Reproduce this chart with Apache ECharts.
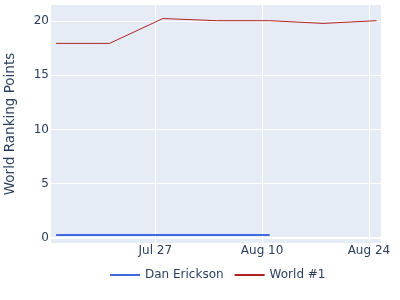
<!DOCTYPE html>
<html>
<head>
<meta charset="utf-8">
<script src="https://cdn.jsdelivr.net/npm/echarts@6/dist/echarts.min.js"></script>
<style>html,body{margin:0;padding:0;background:#fff}#c{width:400px;height:300px}</style>
</head>
<body>
<div id="c"></div>
<script>
const dates = ['2025-07-14','2025-07-21','2025-07-28','2025-08-04','2025-08-11','2025-08-18','2025-08-25'];
const worldValues = [17.95, 17.95, 20.25, 20.05, 20.05, 19.8, 20.05];
const danDates = ['2025-07-14','2025-07-21','2025-07-28','2025-08-04','2025-08-11'];
const danValues = [0.25, 0.25, 0.25, 0.25, 0.25];
const xTickDates = ['2025-07-27','2025-08-10','2025-08-24'];
const xTickLabels = ['Jul 27','Aug 10','Aug 24'];
const yTicks = [0, 5, 10, 15, 20];

function ts(s){ const p = s.split('-').map(Number); return new Date(p[0], p[1]-1, p[2]).getTime(); }
const xTickTs = xTickDates.map(ts);
const xMin = new Date(2025, 6, 13, 8).getTime();
const xMax = new Date(2025, 7, 25, 14).getTime();
const txt = '#2a3f5f';
const font = '"DejaVu Sans", sans-serif';

const chart = echarts.init(document.getElementById('c'), null, {renderer:'canvas'});
chart.setOption({
  animation: false,
  backgroundColor: '#fff',
  textStyle: {fontFamily: font},
  grid: {left: 51, right: 19, top: 5, bottom: 57, show: true, backgroundColor: '#E5ECF6', borderWidth: 0,
    outerBoundsMode: 'none', containLabel: false},
  legend: {
    left: 109, top: 269, padding: 0, itemWidth: 30, itemHeight: 14, itemGap: 10,
    itemStyle: {opacity: 0},
    textStyle: {color: txt, fontSize: 12, fontFamily: font},
    data: ['Dan Erickson', 'World #1']
  },
  xAxis: {
    type: 'value', min: xMin, max: xMax, scale: true,
    axisLine: {show: false},
    axisTick: {show: false, customValues: xTickTs},
    axisLabel: {
      customValues: xTickTs, color: txt, fontSize: 12, fontFamily: font, margin: 2,
      formatter: function (v) { const i = xTickTs.indexOf(v); return i >= 0 ? xTickLabels[i] : ''; }
    },
    splitLine: {show: true, lineStyle: {color: '#fff', width: 1}}
  },
  yAxis: {
    type: 'value', min: -0.5, max: 21.5,
    name: 'World Ranking Points', nameLocation: 'middle', nameGap: 34,
    nameTextStyle: {color: txt, fontSize: 13.5, fontFamily: font},
    axisLine: {show: false},
    axisTick: {show: false, customValues: yTicks},
    axisLabel: {customValues: yTicks, color: txt, fontSize: 12, fontFamily: font, margin: 2},
    splitLine: {show: true, lineStyle: {color: '#fff', width: 1}}
  },
  series: [
    {
      name: 'Dan Erickson', type: 'line', symbol: 'none', showSymbol: false,
      color: '#4169E1', lineStyle: {color: '#4169E1', width: 2},
      data: danDates.map((d, i) => [ts(d), danValues[i]]),
      markLine: {silent: true, symbol: 'none', label: {show: false},
        lineStyle: {color: '#fff', width: 2, type: 'solid'}, data: [{yAxis: 0}]},
      z: 3
    },
    {
      name: 'World #1', type: 'line', symbol: 'none', showSymbol: false,
      color: '#B22222', lineStyle: {color: '#B22222', width: 1},
      data: dates.map((d, i) => [ts(d), worldValues[i]]),
      z: 3
    }
  ]
});
</script>
</body>
</html>
